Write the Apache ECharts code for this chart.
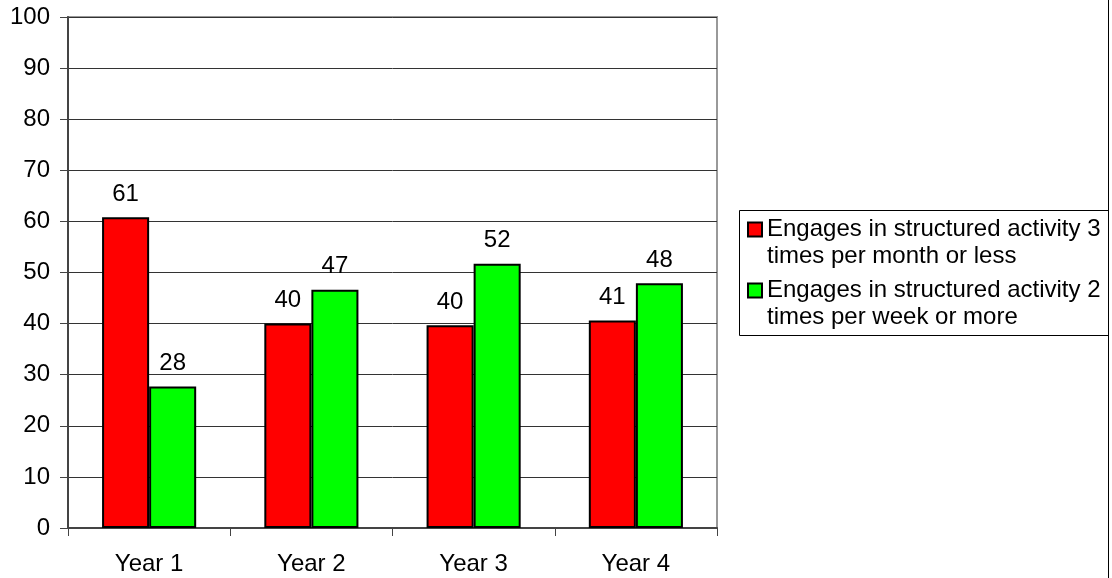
<!DOCTYPE html>
<html><head><meta charset="utf-8">
<script src="https://cdn.jsdelivr.net/npm/echarts@6/dist/echarts.min.js"></script>
<style>html,body{margin:0;padding:0;background:#fff}#c{width:1112px;height:578px}</style>
</head><body><div id="c"></div>
<script>
const categories = ['Year 1', 'Year 2', 'Year 3', 'Year 4'];
const seriesNames = [
  'Engages in structured activity 3\ntimes per month or less',
  'Engages in structured activity 2\ntimes per week or more'
];
const lessOften = [60.8, 40, 39.7, 40.6];
const moreOften = [27.7, 46.6, 51.7, 47.9];
const yMin = 0, yMax = 100, yStep = 10;

const FONT = '"Liberation Sans", Arial, sans-serif';
const FS = 24;
const chart = echarts.init(document.getElementById('c'), null, {renderer: 'canvas'});

function barSeries(name, data, color) {
  return {
    name: name,
    type: 'bar',
    data: data,
    barGap: '0%',
    barCategoryGap: '42%',
    itemStyle: {color: color, borderColor: '#000', borderWidth: 2},
    label: {
      show: true, position: 'top', distance: 11,
      color: '#000', fontFamily: FONT, fontSize: FS,
      formatter: p => Math.round(p.value)
    }
  };
}

chart.setOption({
  animation: false,
  backgroundColor: '#fff',
  grid: {left: 68, right: 395, top: 17, bottom: 50, show: true, borderColor: '#999', borderWidth: 2, backgroundColor: 'transparent'},
  xAxis: {
    type: 'category', data: categories,
    axisLine: {lineStyle: {color: '#444', width: 2}},
    axisTick: {show: true, length: 8, lineStyle: {color: '#444', width: 1}},
    axisLabel: {color: '#000', fontFamily: FONT, fontSize: FS, margin: 24}
  },
  yAxis: {
    type: 'value', min: yMin, max: yMax, interval: yStep,
    axisLine: {show: true, lineStyle: {color: '#444', width: 2}},
    axisTick: {show: true, length: 8, lineStyle: {color: '#444', width: 1}},
    axisLabel: {color: '#000', fontFamily: FONT, fontSize: FS, margin: 18},
    splitLine: {lineStyle: {color: '#333', width: 1}}
  },
  legend: {
    orient: 'vertical', left: 747, top: 189, padding: 0,
    itemWidth: 14, itemHeight: 14, itemGap: -20,
    icon: 'rect',
    formatter: name => '{s| }\n' + name.split('\n').map(l => '{a|' + l + '}').join('\n'),
    textStyle: {
      color: '#000', fontFamily: FONT, fontSize: FS, lineHeight: 27,
      rich: {
        s: {height: 27, lineHeight: 27, fontSize: FS, fontFamily: FONT},
        a: {color: '#000', fontFamily: FONT, fontSize: FS, lineHeight: 27}
      }
    },
    data: seriesNames
  },
  graphic: [
    {type: 'rect', shape: {x: 739.5, y: 210.5, width: 369, height: 125}, style: {fill: 'none', stroke: '#000', lineWidth: 1}, silent: true, z: 100},
    {type: 'line', shape: {x1: 1108.5, y1: 0, x2: 1108.5, y2: 578}, style: {stroke: '#000', lineWidth: 1}, silent: true, z: 100}
  ],
  series: [
    barSeries(seriesNames[0], lessOften, '#ff0000'),
    barSeries(seriesNames[1], moreOften, '#00ff00')
  ]
});
</script></body></html>
